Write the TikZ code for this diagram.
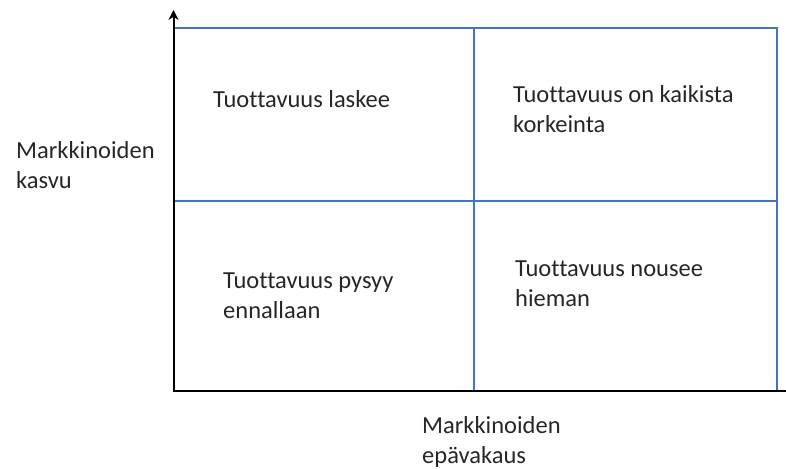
\documentclass[tikz,border=0pt]{standalone}
\usepackage{fontspec}
\setmainfont{Carlito}[Ligatures=NoCommon]
\usepackage{tikz}
\usetikzlibrary{arrows.meta}
\definecolor{gridblue}{HTML}{4472C4}
\definecolor{txtgray}{HTML}{262626}

\begin{document}
\begin{tikzpicture}[x=1pt,y=-1pt,
    txt/.style={anchor=base west,align=left,inner sep=0pt,text=txtgray,
      font=\fontsize{24.5}{29.5}\selectfont},
    gridline/.style={draw=gridblue,line width=1.2pt},
    axis/.style={draw=black,line width=2pt}]
    \useasboundingbox (0,0) rectangle (786,468);
    % Quadrant corners
    \coordinate (tl) at (174,28);
    \coordinate (tm) at (474,28);
    \coordinate (tr) at (777,28);
    \coordinate (ml) at (174,201);
    \coordinate (mr) at (777,201);
    \coordinate (bm) at (474,391);
    \coordinate (br) at (777,391);
    % Quadrant grid
    \draw[gridline] (tl) -- (tr) -- (br);
    \draw[gridline] (tm) -- (bm);
    \draw[gridline] (ml) -- (mr);
    % Axes
    \coordinate (origin) at (173.5,391);
    \coordinate (ytip) at (173.5,10);
    \coordinate (xend) at (786,391);
    \draw[axis,-{Stealth[length=10pt,width=10pt]}] (xend) -- (origin) -- (ytip);
    % Axis labels (base = last line)
    \node[txt] (ylabel) at (16,188) {Markkinoiden\\kasvu};
    \node[txt] (xlabel) at (422,463) {Markkinoiden\\epävakaus};
    % Quadrant texts
    \node[txt] (q1) at (213,107) {Tuottavuus laskee};
    \node[txt] (q2) at (513,132) {Tuottavuus on kaikista\\korkeinta};
    \node[txt] (q3) at (223,318) {Tuottavuus pysyy\\ennallaan};
    \node[txt] (q4) at (515,306) {Tuottavuus nousee\\hieman};
\end{tikzpicture}
\end{document}
